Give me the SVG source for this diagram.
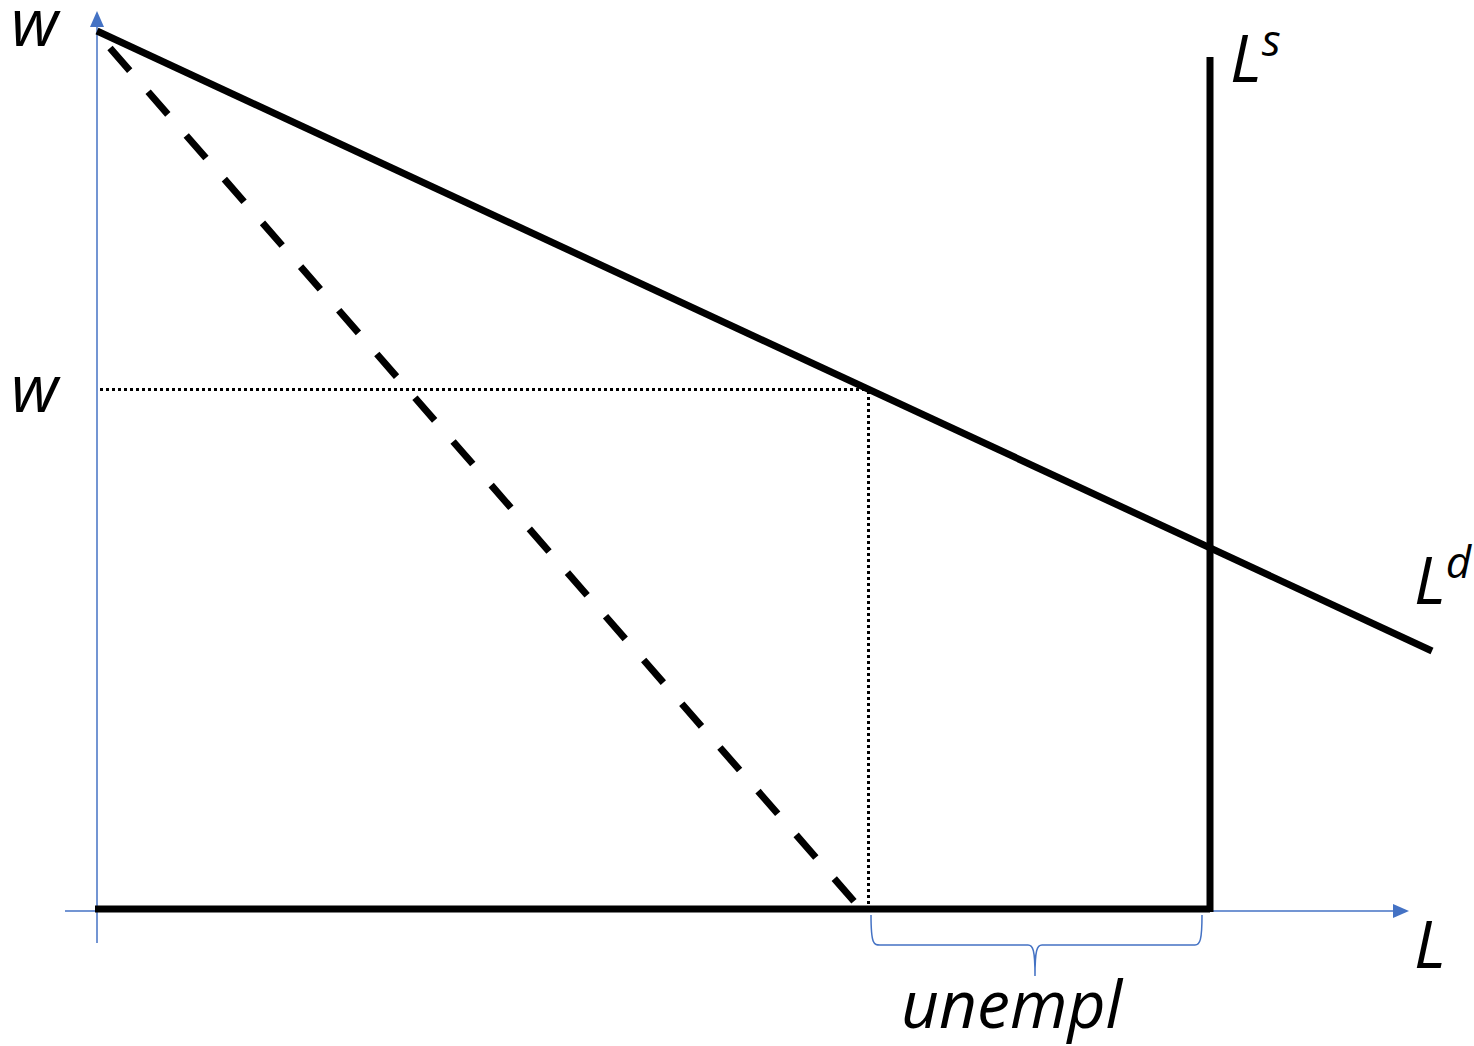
<svg xmlns="http://www.w3.org/2000/svg" width="1474" height="1046" viewBox="0 0 1474 1046">
<style>
.lbl{font-family:"Open Sans","Liberation Sans",sans-serif;font-style:italic;fill:#000}
.axis{stroke:#4472C4;stroke-width:1.5;fill:none}
.thick{stroke:#000;stroke-width:7;fill:none}
.dot{stroke:#000;stroke-width:3;stroke-dasharray:3 3;fill:none}
</style>
<g id="axes">
<line class="axis" x1="97" y1="943" x2="97" y2="14"/>
<path d="M90,27 L97,11 L104,27 z" fill="#4472C4"/>
<line class="axis" x1="65" y1="911" x2="1395" y2="911"/>
<path d="M1393,904 L1409,911 L1393,918 z" fill="#4472C4"/>
</g>
<g id="connectors">
<line id="Ld" class="thick" x1="97" y1="31" x2="1432" y2="651"/>
<line id="Ls" class="thick" x1="1210" y1="57" x2="1210" y2="912" stroke-width="6"/>
<line id="employed" class="thick" x1="95" y1="909" x2="1210" y2="909"/>
<line id="dashed" x1="110" y1="48" x2="866" y2="915" stroke="#000" stroke-width="7" stroke-dasharray="30 28"/>
<line id="hdot" class="dot" x1="100" y1="389.5" x2="868" y2="389.5"/>
<line id="vdot" class="dot" x1="868.5" y1="391" x2="868.5" y2="907"/>
<path id="brace" d="M871,915 C871,945 874,945 880,945 L1028,945 C1033,945 1035,950 1035,976 C1035,950 1037,945 1042,945 L1195,945 C1200,945 1202,940 1202,915" fill="none" stroke="#4472C4" stroke-width="1.5"/>
</g>
<g id="labels">
<text class="lbl" x="11" y="46" font-size="66">w</text>
<text class="lbl" x="11" y="412" font-size="66">w</text>
<text class="lbl" x="1230" y="82" font-size="66">L<tspan font-size="44" dy="-26">s</tspan></text>
<text class="lbl" x="1414" y="604" font-size="66">L<tspan font-size="44" dy="-26">d</tspan></text>
<text class="lbl" x="1414" y="968" font-size="66">L</text>
<text class="lbl" x="901" y="1028" font-size="66">unempl</text>
</g>
</svg>
